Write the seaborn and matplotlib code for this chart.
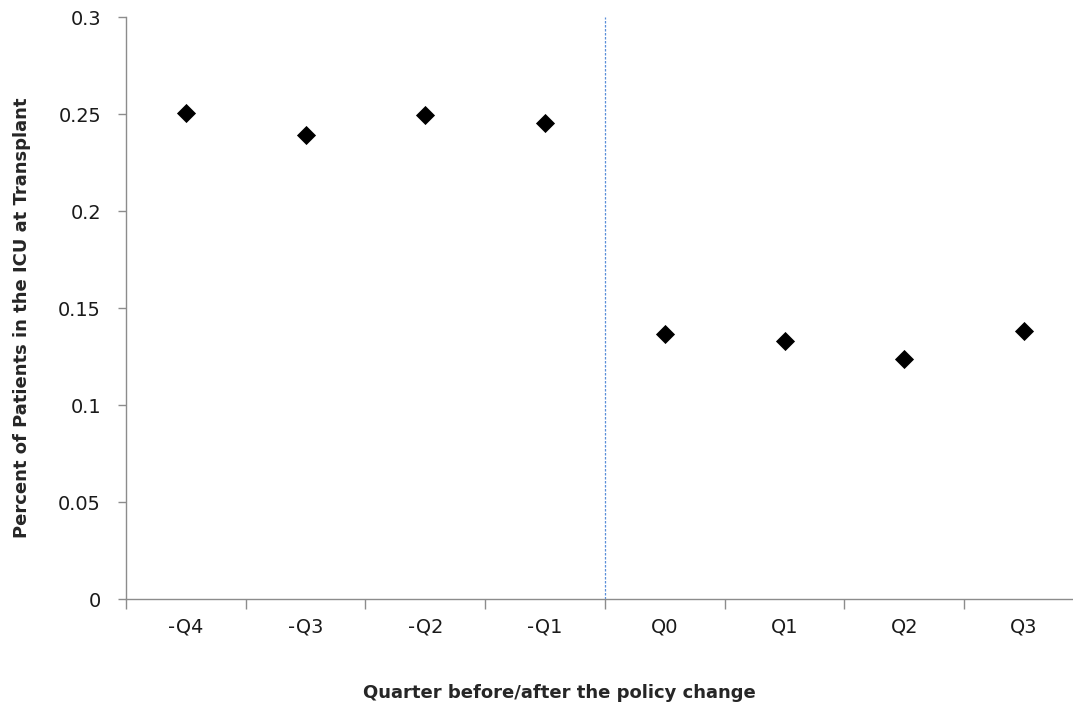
import numpy as np
import pandas as pd
import matplotlib
matplotlib.use("Agg")
import matplotlib.pyplot as plt
import seaborn as sns

# values
quarters = ["-Q4", "-Q3", "-Q2", "-Q1", "Q0", "Q1", "Q2", "Q3"]
icu_share = [0.2505, 0.2393, 0.2497, 0.2455, 0.1368, 0.1328, 0.1235, 0.1383]
y_ticks = [0, 0.05, 0.1, 0.15, 0.2, 0.25, 0.3]
y_tick_labels = ["0", "0.05", "0.1", "0.15", "0.2", "0.25", "0.3"]

sns.set_style("white")
plt.rcParams["font.family"] = ["DejaVu Sans"]

df = pd.DataFrame({"quarter": quarters, "share": icu_share})

fig = plt.figure(figsize=(10.73, 7.09), dpi=100)
ax = fig.add_axes([0.1174, 0.1551, 0.8928, 0.8209])

sns.scatterplot(data=df, x="quarter", y="share", marker="D", s=95,
                color="black", edgecolor="black", linewidth=0, ax=ax, zorder=3)

# policy change boundary between -Q1 and Q0
ax.axvline(3.5, color="#5a8fd8", linestyle=(0, (2, 1.2)), linewidth=0.9, zorder=2)

ax.set_xlim(-0.5, len(quarters) - 0.5)
ax.set_ylim(0, 0.3)

axis_grey = "#8c8c8c"
for side in ["top", "right"]:
    ax.spines[side].set_visible(False)
for side in ["left", "bottom"]:
    ax.spines[side].set_color(axis_grey)
    ax.spines[side].set_linewidth(1.0)

# Excel-style category axis: ticks on boundaries, labels in the middle
n = len(quarters)
ax.set_xticks(np.arange(n + 1) - 0.5)
ax.set_xticklabels([])
ax.set_xticks(np.arange(n), minor=True)
ax.set_xticklabels(quarters, minor=True, fontsize=13.9, color="#1a1a1a")
ax.tick_params(axis="x", which="major", direction="out", length=7,
               color=axis_grey, width=1.0, bottom=True)
ax.tick_params(axis="x", which="minor", length=0, pad=13, bottom=True)

ax.set_yticks(y_ticks)
ax.set_yticklabels(y_tick_labels, fontsize=13.9, color="#1a1a1a")
ax.tick_params(axis="y", direction="out", length=6, color=axis_grey,
               width=1.0, pad=12, left=True)

ax.set_xlabel("Quarter before/after the policy change", fontsize=13,
              fontweight="bold", va="center")
ax.set_ylabel("Percent of Patients in the ICU at Transplant", fontsize=13,
              fontweight="bold", va="center")
ax.xaxis.set_label_coords(0.452, -0.1615)
ax.yaxis.set_label_coords(-0.1086, 0.483)

fig.savefig("out.png", dpi=100)
